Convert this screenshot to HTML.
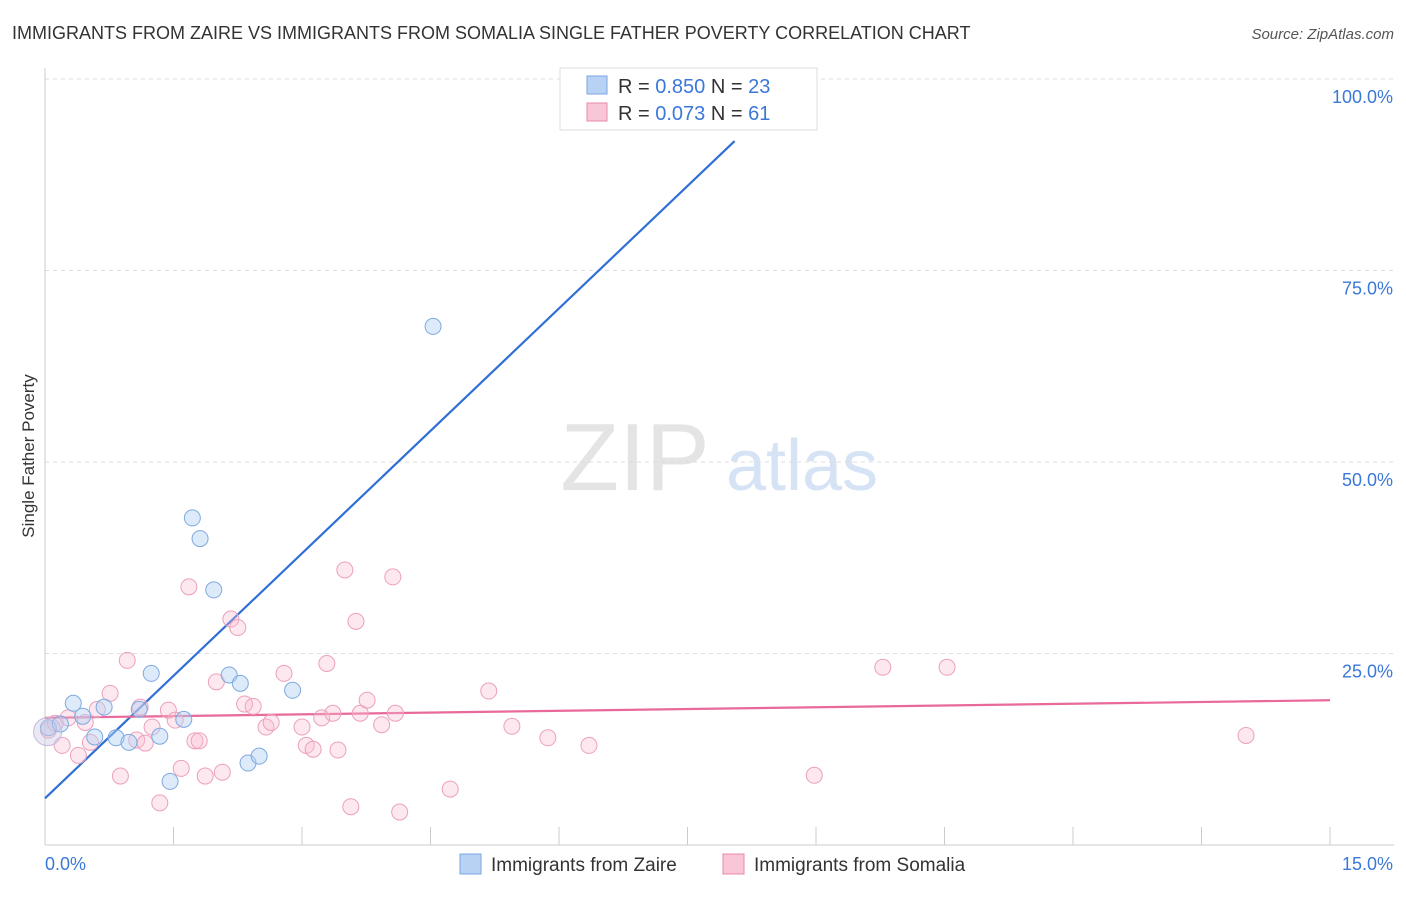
<!DOCTYPE html>
<html><head><meta charset="utf-8">
<style>
body{margin:0;background:#fff;font-family:"Liberation Sans",sans-serif;}
svg text{font-family:"Liberation Sans",sans-serif;}
</style></head>
<body>
<svg id="chart" width="1406" height="892" xmlns="http://www.w3.org/2000/svg">
<text x="12" y="39" font-size="18" fill="#333">IMMIGRANTS FROM ZAIRE VS IMMIGRANTS FROM SOMALIA SINGLE FATHER POVERTY CORRELATION CHART</text>
<text x="1394" y="39" font-size="15" fill="#555" text-anchor="end" font-style="italic">Source: ZipAtlas.com</text>
<text transform="translate(34,456) rotate(-90)" font-size="17" fill="#333" text-anchor="middle">Single Father Poverty</text>
<g>
<text x="635" y="490" font-size="96" fill="#e4e4e4" text-anchor="middle" font-family="Liberation Serif,serif">ZIP</text>
<text x="802" y="490" font-size="72" fill="#d5e3f5" text-anchor="middle">atlas</text>
</g>
<g id="grid"></g>
<g id="axes"></g>
<g id="lines"></g>
<g id="pts"></g>
<g>
<rect x="560" y="68" width="257" height="62" fill="#fff" stroke="#ddd"/>
<rect x="587" y="76" width="20" height="18" fill="#b8d2f4" stroke="#7aa6e0"/>
<text x="618" y="93" font-size="20" fill="#333">R = <tspan fill="#3b78d8">0.850</tspan>   N = <tspan fill="#3b78d8">23</tspan></text>
<rect x="587" y="103" width="20" height="18" fill="#f8c6d6" stroke="#e88aaa"/>
<text x="618" y="120" font-size="20" fill="#333">R = <tspan fill="#3b78d8">0.073</tspan>   N =  <tspan fill="#3b78d8">61</tspan></text>
</g>
<g>
<rect x="460" y="854" width="21" height="20" fill="#b8d2f4" stroke="#7aa6e0"/>
<text x="491" y="871" font-size="19" fill="#333">Immigrants from Zaire</text>
<rect x="723" y="854" width="21" height="20" fill="#f8c6d6" stroke="#e88aaa"/>
<text x="754" y="871" font-size="19" fill="#333">Immigrants from Somalia</text>
</g>
</svg>
<script>
const xTicks=[0,1.5,3,4.5,6,7.5,9,10.5,12,13.5,15];
const yTicks=[25,50,75,100];
const yTickLabels=["25.0%","50.0%","75.0%","100.0%"];
const xEndLabels=["0.0%","15.0%"];
const zaireX=[0.04,0.18,0.33,0.44,0.58,0.69,0.83,0.98,1.10,1.24,1.34,1.46,1.62,1.72,1.81,1.97,2.15,2.28,2.37,2.50,2.89,4.53,7.88];
const zaireY=[15.3,15.8,18.5,16.8,14.1,18.0,14.0,13.4,17.7,22.4,14.2,8.3,16.4,42.7,40.0,33.3,22.2,21.1,10.7,11.6,20.2,67.7,99.9];
const somaliaX=[0.04,0.12,0.20,0.27,0.39,0.47,0.53,0.61,0.76,0.88,0.96,1.07,1.11,1.17,1.25,1.34,1.44,1.52,1.59,1.68,1.75,1.80,1.87,2.00,2.07,2.17,2.25,2.33,2.43,2.58,2.64,2.79,3.00,3.05,3.13,3.23,3.29,3.36,3.42,3.50,3.57,3.63,3.68,3.76,3.93,4.06,4.09,4.14,4.73,5.18,5.45,5.87,6.35,8.98,9.78,10.53,14.02];
const somaliaY=[15.0,15.9,13.0,16.6,11.7,16.0,13.4,17.7,19.8,9.0,24.1,13.7,18.0,13.3,15.4,5.5,17.6,16.3,10.0,33.7,13.6,13.6,9.0,21.3,9.5,29.5,28.4,18.4,18.1,15.4,16.0,22.4,15.4,13.0,12.5,16.6,23.7,17.2,12.4,35.9,5.0,29.2,17.2,18.9,15.7,35.0,17.2,4.3,7.3,20.1,15.5,14.0,13.0,9.1,23.2,23.2,14.3];
const zaireTrend=[[0,6.1],[8.05,91.9]];
const somaliaTrend=[[0,16.6],[15,18.9]];
const NS="http://www.w3.org/2000/svg";
const X=v=>45+v*(1330-45)/15;
const Y=v=>845-v*(845-79)/100;
function mk(tag,attrs,parent){const e=document.createElementNS(NS,tag);for(const k in attrs)e.setAttribute(k,attrs[k]);parent.appendChild(e);return e;}
const grid=document.getElementById('grid'),axes=document.getElementById('axes'),lines=document.getElementById('lines'),pts=document.getElementById('pts');
yTicks.forEach((t,i)=>{
 const l=mk('line',{x1:45,x2:1394,y1:Y(t),y2:Y(t),stroke:'#ddd','stroke-dasharray':'4,4'},grid);
 
 
 const tx=mk('text',{x:1393,y:Y(t)+24,'font-size':18,fill:'#3b78d8','text-anchor':'end'},axes);
 tx.textContent=yTickLabels[i];
 
 
});
const ya=mk('line',{x1:45,x2:45,y1:68,y2:845,stroke:'#ccc'},axes);


const xa=mk('line',{x1:45,x2:1394,y1:845,y2:845,stroke:'#ccc'},axes);


xTicks.forEach(t=>{
 const l=mk('line',{x1:X(t),x2:X(t),y1:827,y2:845,stroke:'#ccc'},axes);
 
 
});
const xl0=mk('text',{x:45,y:870,'font-size':18,fill:'#3b78d8'},axes);xl0.textContent=xEndLabels[0];


const xl1=mk('text',{x:1393,y:870,'font-size':18,fill:'#3b78d8','text-anchor':'end'},axes);xl1.textContent=xEndLabels[1];


somaliaX.forEach((v,i)=>{
 const c=mk('circle',{cx:X(v),cy:Y(somaliaY[i]),r:8,fill:'rgba(248,190,210,0.35)',stroke:'#eca0bb','stroke-width':1},pts);
 
 
});
zaireX.forEach((v,i)=>{
 const c=mk('circle',{cx:X(v),cy:Y(zaireY[i]),r:8,fill:'rgba(180,208,244,0.45)',stroke:'#7ea9df','stroke-width':1},pts);
 
 
});
const big=mk('circle',{cx:X(0.03),cy:Y(14.8),r:14,fill:'rgba(200,200,230,0.4)',stroke:'#c8b8d8'},pts);


const zl=mk('line',{x1:X(zaireTrend[0][0]),y1:Y(zaireTrend[0][1]),x2:X(zaireTrend[1][0]),y2:Y(zaireTrend[1][1]),stroke:'#2f6fd6','stroke-width':2.2},lines);


const sl=mk('line',{x1:X(somaliaTrend[0][0]),y1:Y(somaliaTrend[0][1]),x2:X(somaliaTrend[1][0]),y2:Y(somaliaTrend[1][1]),stroke:'#e8699a','stroke-width':2.2},lines);


</script>
</body></html>
